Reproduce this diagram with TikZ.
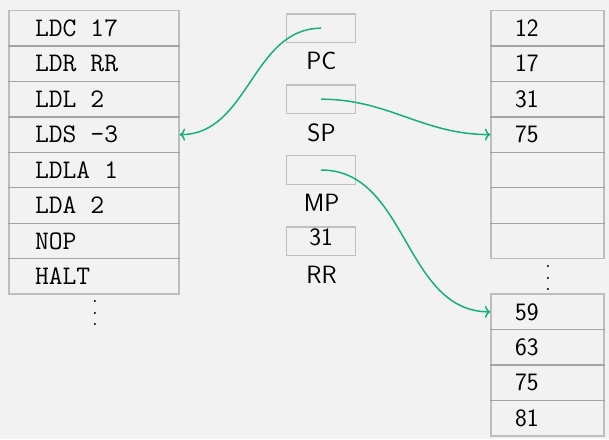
\documentclass[tikz,border=0pt]{standalone}
\usetikzlibrary{arrows.meta}
\definecolor{bg}{HTML}{F2F2F2}
\definecolor{celledge}{HTML}{8E8E8E}
\definecolor{regedge}{HTML}{C0C0C0}
\definecolor{ptr}{HTML}{17B07B}
\newcommand\myvdots{\vbox{\baselineskip=11.5pt\lineskiplimit=0pt\hbox{.}\hbox{.}\hbox{.}}}
\DeclareRobustCommand\cellmono{\fontsize{26.8}{30}\selectfont\ttfamily}
\newcommand\tsp{\hspace*{0.525em}}
\begin{document}
\begin{tikzpicture}[x=1pt,y=-1pt,
  cellbase/.style={rectangle, draw=celledge, draw opacity=0.52, line width=1.3pt,
    minimum height=35.45pt, inner ysep=0pt, align=left},
  lcell/.style={cellbase, inner xsep=26pt, text width=118pt, font=\cellmono},
  rcell/.style={cellbase, inner xsep=24pt, text width=65pt,
    font=\fontsize{25}{30}\selectfont\sffamily},
  reg/.style={rectangle, draw=regedge, line width=1.3pt, minimum width=69pt,
    minimum height=28.5pt, inner sep=0pt, font=\fontsize{25}{30}\selectfont\sffamily},
  lbl/.style={inner sep=0pt, font=\fontsize{25}{30}\selectfont\sffamily},
  dotsnode/.style={inner sep=0pt, font=\fontsize{25}{30}\selectfont\rmfamily},
  ptrline/.style={draw=ptr, line width=1.5pt, -{To[length=5.5pt,width=12pt]}}
]
\fill[bg] (0,0) rectangle (609,439);
\useasboundingbox (0,0) rectangle (609,439);

% program memory
\node[lcell] (l0) at (94,28.23) {LDC\tsp17};
\node[lcell] (l1) at (94,63.68) {LDR\tsp RR};
\node[lcell] (l2) at (94,99.13) {LDL\tsp2};
\node[lcell] (l3) at (94,134.58) {LDS\tsp-3};
\node[lcell] (l4) at (94,170.03) {LDLA\tsp1};
\node[lcell] (l5) at (94,205.48) {LDA\tsp2};
\node[lcell] (l6) at (94,240.93) {NOP};
\node[lcell] (l7) at (94,276.38) {HALT};
\node[dotsnode] (ld) at (95,313.4) {\myvdots};

% data memory
\node[rcell] (r0) at (547.5,28.23) {12};
\node[rcell] (r1) at (547.5,63.68) {17};
\node[rcell] (r2) at (547.5,99.13) {31};
\node[rcell] (r3) at (547.5,134.58) {75};
\node[rcell] (r4) at (547.5,170.03) {};
\node[rcell] (r5) at (547.5,205.48) {};
\node[rcell] (r6) at (547.5,240.93) {};
\node[dotsnode] (rd) at (548,278.3) {\myvdots};
\node[rcell] (r8) at (547.5,311.83) {59};
\node[rcell] (r9) at (547.5,347.28) {63};
\node[rcell] (r10) at (547.5,382.73) {75};
\node[rcell] (r11) at (547.5,418.18) {81};

% registers
\node[reg] (pc) at (321.2,28.2) {};
\node[reg] (sp) at (321.2,99.2) {};
\node[reg] (mp) at (321.2,170) {};
\node[reg, text depth=9.2pt] (rr) at (321.2,241.2) {31};
\node[lbl] (pcl) at (321.5,61.3) {PC};
\node[lbl] (spl) at (321.5,133) {SP};
\node[lbl] (mpl) at (321.5,203.3) {MP};
\node[lbl] (rrl) at (321.5,274.7) {RR};

% pointers
\draw[ptrline] (pc.center) to[out=180,in=0] (l3.east);
\draw[ptrline] (sp.center) to[out=0,in=180] (r3.west);
\draw[ptrline] (mp.center) to[out=0,in=180] (r8.west);
\end{tikzpicture}
\end{document}
